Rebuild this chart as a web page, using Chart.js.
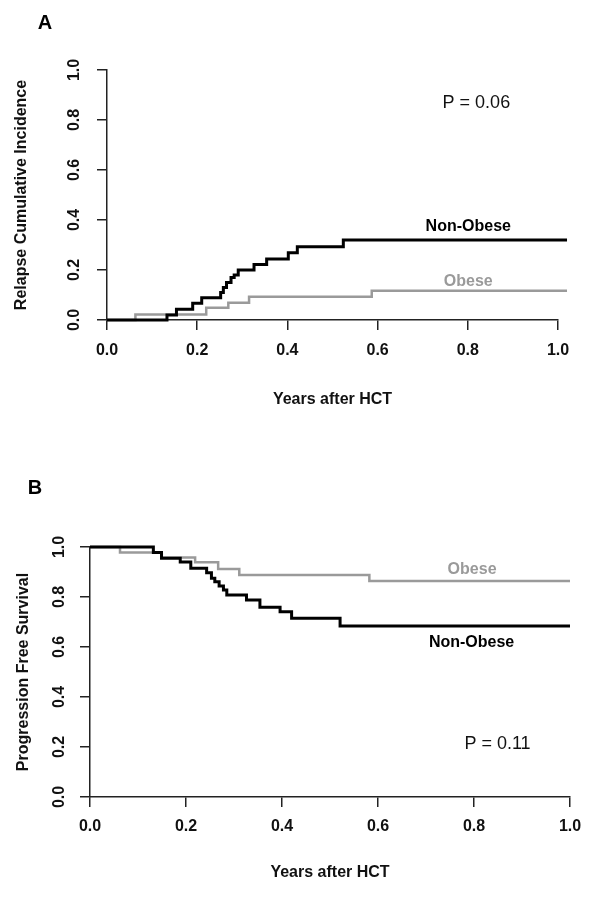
<!DOCTYPE html>
<html>
<head>
<meta charset="utf-8">
<script src="https://cdn.jsdelivr.net/npm/chart.js@4.4.1/dist/chart.umd.min.js"></script>
<style>
  html, body { margin: 0; padding: 0; background: #fff; }
  #wrap { position: relative; width: 594px; height: 897px; }
  canvas { position: absolute; left: 0; }
</style>
</head>
<body>
<div id="wrap">
  <canvas id="chartA" width="594" height="448" style="top:0"></canvas>
  <canvas id="chartB" width="594" height="449" style="top:448px"></canvas>
</div>
<script>
(function () {
    "use strict";

    // Panel A - relapse cumulative incidence (years after HCT / incidence)
    var relapseTimesNonObese = [0, 0.133, 0.154, 0.19, 0.21, 0.252, 0.258, 0.265, 0.275, 0.282, 0.291, 0.326, 0.354, 0.402, 0.422, 0.524, 1.02];
    var relapseNonObese      = [0, 0.02, 0.043, 0.067, 0.089, 0.11, 0.13, 0.15, 0.17, 0.18, 0.2, 0.222, 0.244, 0.269, 0.293, 0.32, 0.32];
    var relapseTimesObese    = [0, 0.063, 0.22, 0.269, 0.315, 0.587, 1.02];
    var relapseObese         = [0, 0.022, 0.049, 0.069, 0.093, 0.117, 0.117];

    // Panel B - progression free survival
    var pfsTimesNonObese = [0, 0.132, 0.149, 0.188, 0.21, 0.243, 0.253, 0.26, 0.269, 0.278, 0.285, 0.326, 0.354, 0.396, 0.42, 0.521, 1.0];
    var pfsNonObese      = [1, 0.978, 0.955, 0.94, 0.915, 0.897, 0.875, 0.861, 0.844, 0.828, 0.808, 0.788, 0.759, 0.741, 0.715, 0.684, 0.684];
    var pfsTimesObese    = [0, 0.0625, 0.149, 0.219, 0.267, 0.311, 0.582, 1.0];
    var pfsObese         = [1, 0.978, 0.958, 0.939, 0.912, 0.888, 0.864, 0.864];

    var FONT = "'Liberation Sans', Arial, sans-serif";
    var AXIS = '#222';
    var GRAY = '#9a9a9a';

    function toPoints(times, values) {
        return times.map(function (t, i) {
            return { x: t, y: values[i] };
        });
    }

    // panel letter, p value and curve names (names placed in data units)
    function notesPlugin(cfg) {
        return {
            id: 'notes',
            afterDraw: function (chart) {
                var ctx = chart.ctx;
                var xs = chart.scales.x, ys = chart.scales.y;
                ctx.save();
                ctx.textAlign = 'center';
                ctx.textBaseline = 'middle';
                ctx.fillStyle = '#000';
                ctx.font = 'bold 20px ' + FONT;
                ctx.fillText(cfg.letter, cfg.letterAt[0], cfg.letterAt[1]);
                cfg.notes.forEach(function (n) {
                    ctx.font = n.font;
                    ctx.fillStyle = n.color;
                    ctx.fillText(n.text, xs.getPixelForValue(n.x), ys.getPixelForValue(n.y));
                });
                ctx.restore();
            }
        };
    }

    function makeChart(id, cfg) {
        var tickFont = { family: FONT, size: 16, weight: 'bold' };
        return new Chart(document.getElementById(id), {
            type: 'line',
            data: {
                datasets: [{
                    label: 'Non-Obese',
                    data: toPoints(cfg.timesNon, cfg.non),
                    borderColor: '#000',
                    borderWidth: 3,
                    stepped: true,
                    pointRadius: 0,
                    fill: false,
                    clip: false
                }, {
                    label: 'Obese',
                    data: toPoints(cfg.timesOb, cfg.ob),
                    borderColor: GRAY,
                    borderWidth: 2.5,
                    stepped: true,
                    pointRadius: 0,
                    fill: false,
                    clip: false
                }]
            },
            options: {
                responsive: false,
                animation: false,
                devicePixelRatio: 1,
                layout: { padding: cfg.padding },
                plugins: {
                    legend: { display: false },
                    tooltip: { enabled: false }
                },
                scales: {
                    x: {
                        type: 'linear',
                        min: 0,
                        max: 1,
                        afterFit: function (s) { s.height = cfg.xHeight; },
                        grid: { drawOnChartArea: false, tickLength: 10, color: AXIS, lineWidth: 1.5 },
                        border: { display: true, color: AXIS, width: 1.5 },
                        ticks: {
                            stepSize: 0.2,
                            padding: cfg.xPad,
                            color: '#111',
                            font: tickFont,
                            callback: function (v) { return v.toFixed(1); }
                        },
                        title: {
                            display: true,
                            text: 'Years after HCT',
                            color: '#111',
                            font: tickFont,
                            padding: { top: 0, bottom: cfg.xTitlePad }
                        }
                    },
                    y: {
                        type: 'linear',
                        min: 0,
                        max: 1,
                        afterFit: function (s) { s.width = cfg.yWidth; },
                        grid: { drawOnChartArea: false, tickLength: 10, color: AXIS, lineWidth: 1.5 },
                        border: { display: true, color: AXIS, width: 1.5 },
                        ticks: {
                            stepSize: 0.2,
                            minRotation: 90,
                            maxRotation: 90,
                            crossAlign: 'center',
                            padding: cfg.yPad,
                            color: '#111',
                            font: tickFont,
                            callback: function (v) { return v.toFixed(1); }
                        },
                        title: {
                            display: true,
                            text: cfg.yTitle,
                            color: '#111',
                            font: tickFont,
                            padding: { top: cfg.yTitlePad, bottom: 0 }
                        }
                    }
                }
            },
            plugins: [notesPlugin(cfg)]
        });
    }

    makeChart('chartA', {
        timesNon: relapseTimesNonObese, non: relapseNonObese,
        timesOb: relapseTimesObese, ob: relapseObese,
        yTitle: 'Relapse Cumulative Incidence',
        padding: { left: 0, top: 70, right: 36, bottom: 0 },
        yWidth: 107, xHeight: 128, xPad: 11, yPad: 11, yTitlePad: 12, xTitlePad: 38.4,
        letter: 'A', letterAt: [45, 23],
        notes: [
            { text: 'P = 0.06', x: 0.819, y: 0.868, font: '18px ' + FONT, color: '#111' },
            { text: 'Non-Obese', x: 0.801, y: 0.372, font: 'bold 16px ' + FONT, color: '#000' },
            { text: 'Obese', x: 0.801, y: 0.152, font: 'bold 16px ' + FONT, color: GRAY }
        ]
    });

    makeChart('chartB', {
        timesNon: pfsTimesNonObese, non: pfsNonObese,
        timesOb: pfsTimesObese, ob: pfsObese,
        yTitle: 'Progression Free Survival',
        padding: { left: 0, top: 99, right: 24, bottom: 0 },
        yWidth: 90, xHeight: 100, xPad: 10, yPad: 9, yTitlePad: 13.5, xTitlePad: 14.4,
        letter: 'B', letterAt: [35, 40],
        notes: [
            { text: 'Obese', x: 0.796, y: 0.908, font: 'bold 16px ' + FONT, color: GRAY },
            { text: 'Non-Obese', x: 0.795, y: 0.617, font: 'bold 16px ' + FONT, color: '#000' },
            { text: 'P = 0.11', x: 0.849, y: 0.212, font: '18px ' + FONT, color: '#111' }
        ]
    });
})();
</script>
</body>
</html>
